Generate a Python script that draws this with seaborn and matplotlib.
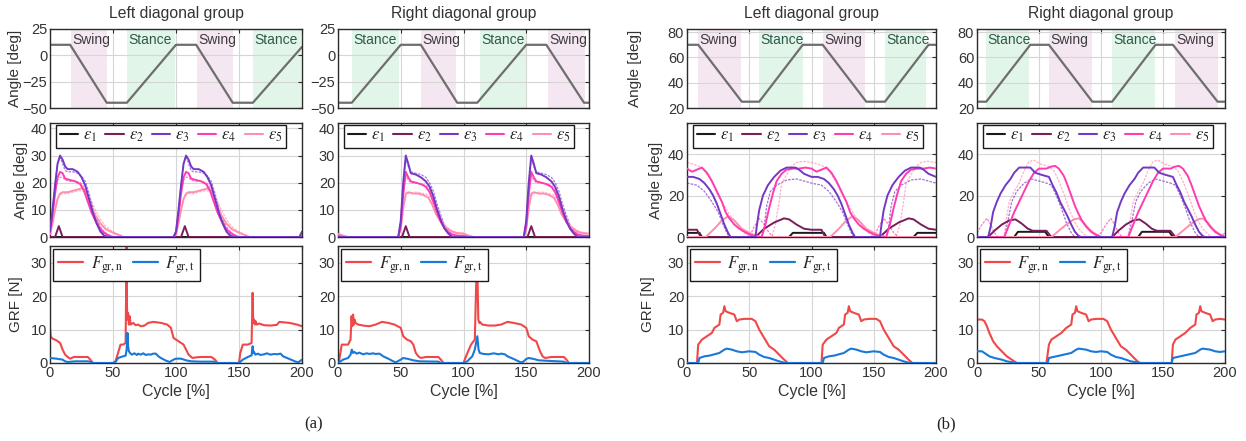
import numpy as np
import matplotlib
matplotlib.use("Agg")
import matplotlib.pyplot as plt
import seaborn as sns

# ---------------- data ----------------
X_TICKS = [0, 50, 100, 150, 200]

# top row: reference joint trajectories
AL_TRAJ_X = [0, 16, 45, 61, 100, 116, 145, 161, 200]
AL_TRAJ_Y = [10, 10, -45, -45, 10, 10, -45, -45, 8]
AR_TRAJ_X = [0, 11, 50, 66, 95, 111, 150, 166, 196, 200]
AR_TRAJ_Y = [-45, -45, 10, 10, -45, -45, 10, 10, -45, -45]
BL_TRAJ_X = [0, 9, 44, 58, 93, 109, 144, 159, 194, 200]
BL_TRAJ_Y = [70, 70, 25, 25, 70, 70, 25, 25, 70, 70]
BR_TRAJ_X = [0, 7.5, 43, 58, 93, 109, 144, 158, 194, 200]
BR_TRAJ_Y = [25, 25, 70, 70, 25, 25, 70, 70, 25, 25]

AL_PHASE = ["Swing", "Stance", "Swing", "Stance"]
AL_PH_START = [17, 61, 117, 161]
AL_PH_END = [45, 99, 145, 199]
AR_PHASE = ["Stance", "Swing", "Stance", "Swing"]
AR_PH_START = [11, 66, 113, 167]
AR_PH_END = [49, 94, 150, 197]
BL_PHASE = ["Swing", "Stance", "Swing", "Stance"]
BL_PH_START = [9, 58, 109, 159]
BL_PH_END = [43, 93, 143, 192]
BR_PHASE = ["Stance", "Swing", "Stance", "Swing"]
BR_PH_START = [7, 58, 109, 160]
BR_PH_END = [42, 93, 143.6, 194]

# middle row: joint angles over one cycle (0-100 %), leg 1 (solid) and leg 2 (dotted)
AL_E1_X = [0, 100]
AL_E1_Y = [0, 0]
AL_E2_X = [0, 4, 7, 10, 100]
AL_E2_Y = [0, 0, 4, 0, 0]
AL_E3_X = [0, 2, 4, 6, 8, 10, 12, 14, 18, 22, 25, 28, 31, 34, 37, 40, 43, 46, 98, 100]
AL_E3_Y = [2, 10, 19, 27, 30, 28.5, 26, 25, 25, 24, 22, 19, 14, 9, 5, 2, 0.5, 0, 0, 2]
AL_D3_Y = [2, 10, 19, 27, 29.5, 27, 24.5, 24, 24, 23.5, 22.5, 20.5, 16, 11, 6.5, 3, 1, 0, 0, 2]
AL_E4_X = [0, 2, 4, 6, 8, 10, 12, 16, 20, 24, 27, 30, 33, 36, 39, 42, 45, 48, 50, 98, 100]
AL_E4_Y = [1.5, 8, 16, 22, 24, 23.5, 21.5, 21, 20.5, 19.5, 17, 13, 9, 6, 3.5, 2, 1, 0.3, 0, 0, 1.5]
AL_D4_Y = [1.5, 8, 16, 21, 22, 22, 21, 20.5, 20.5, 20, 18.5, 15, 11, 7.5, 4.5, 2.5, 1.2, 0.4, 0, 0, 1.5]
AL_E5_X = [0, 2, 4, 6, 8, 10, 14, 18, 22, 26, 28, 30, 33, 36, 40, 44, 48, 52, 56, 58, 98, 100]
AL_E5_Y = [1, 5, 10, 14, 16, 16.5, 16.5, 17, 17.5, 18, 17, 15, 11, 8, 5, 3, 2, 1.2, 0.5, 0, 0, 1]
AL_D5_Y = [1, 5, 10, 14, 15.5, 16, 16, 16.5, 17, 17, 16.5, 15.5, 13, 10, 6.5, 4, 2.5, 1.5, 0.6, 0, 0, 1]

AR_E1_X = [0, 100]
AR_E1_Y = [0, 0]
AR_E2_X = [0, 51, 54, 57, 100]
AR_E2_Y = [0, 0, 4, 0, 0]
AR_E3_X = [0, 48, 50, 52, 54, 56, 58, 62, 66, 70, 73, 76, 79, 82, 85, 88, 91, 100]
AR_E3_Y = [0, 0, 6, 20, 30, 27, 23.5, 23, 22, 20.5, 18.5, 15, 10, 6, 3, 1.2, 0, 0]
AR_D3_Y = [0, 0, 6, 20, 29, 26, 24, 23.5, 23, 22, 20, 17, 12, 8, 4, 1.8, 0.3, 0]
AR_E4_X = [0, 4, 48, 50, 52, 54, 56, 58, 62, 66, 70, 73, 76, 79, 82, 85, 88, 91, 95, 100]
AR_E4_Y = [0.4, 0, 0, 4, 16, 24, 22, 20.5, 20, 19.5, 18.5, 16.5, 13, 9, 5.5, 3.2, 1.8, 0.9, 0.5, 0.4]
AR_D4_Y = [0.5, 0, 0, 4, 15, 22.5, 21, 20, 20, 19.5, 19, 17.5, 14.5, 10.5, 7, 4, 2.2, 1.2, 0.6, 0.5]
AR_E5_X = [0, 4, 8, 48, 50, 52, 54, 56, 60, 64, 68, 72, 75, 78, 82, 86, 90, 94, 100]
AR_E5_Y = [1.2, 0.5, 0, 0, 3, 11, 16, 16.5, 16, 16, 15.5, 14.5, 12, 8.5, 5.5, 3.5, 2.2, 1.5, 1.2]
AR_D5_Y = [1.5, 0.6, 0, 0, 3, 10, 15, 16, 16.5, 16.5, 16, 15.5, 13.5, 10, 6.5, 4, 2.5, 1.8, 1.5]

BL_E1_X = [0, 10, 12, 82, 85, 100]
BL_E1_Y = [2, 2, 0, 0, 2, 2]
BL_E2_X = [0, 8, 11, 55, 62, 70, 78, 82, 88, 94, 100]
BL_E2_Y = [3.5, 3.5, 0, 0, 4, 7, 9, 8.5, 6, 4, 3.5]
BL_E3_X = [0, 5, 10, 14, 18, 21, 24, 27, 30, 33, 35, 55, 56, 58, 61, 65, 70, 75, 80, 87, 90, 94, 100]
BL_E3_Y = [29, 29, 28, 26, 23, 20, 16, 11, 6, 2, 0, 0, 5, 13, 20, 25, 29, 32, 33.5, 33.5, 32.5, 30.5, 29]
BL_E4_X = [0, 4, 8, 12, 16, 20, 24, 28, 31, 34, 38, 42, 46, 50, 55, 60, 63, 66, 69, 72, 76, 80, 85, 90, 95, 100]
BL_E4_Y = [33, 31.5, 32.5, 33.5, 31, 27, 22, 17, 12, 9, 6, 4, 2.5, 1.3, 0.3, 0, 6, 14, 21, 27, 30.5, 32.5, 33, 33, 33.5, 33]
BL_E5_X = [0, 15, 22, 28, 33, 38, 44, 50, 56, 60, 100]
BL_E5_Y = [0, 0, 4, 8, 10, 8, 4, 2, 0.5, 0, 0]
BL_D3_X = [0, 8, 14, 20, 25, 29, 32, 34, 60, 62, 64, 67, 72, 80, 88, 94, 100]
BL_D3_Y = [26, 25, 22, 17, 12, 6, 2, 0, 0, 5, 15, 22, 25, 27.5, 28, 27, 26]
BL_D4_X = [0, 6, 12, 18, 26, 34, 42, 48, 52, 68, 71, 74, 76, 80, 84, 88, 93, 100]
BL_D4_Y = [36, 35, 33.5, 28.5, 19, 11, 4.5, 1, 0, 0, 6, 17, 26, 30, 34, 36, 36.5, 36]
BL_D5_X = [0, 50, 54, 58, 62, 66, 70, 100]
BL_D5_Y = [0, 0, 5, 9, 6, 2, 0, 0]

BR_E1_X = [0, 30, 33, 55, 58, 100]
BR_E1_Y = [0, 0, 2.5, 2.5, 0, 0]
BR_E2_X = [0, 9, 14, 20, 26, 31, 36, 41, 45, 56, 60, 100]
BR_E2_Y = [0, 0, 3, 6, 8, 8.5, 6.5, 4, 3, 3, 0, 0]
BR_E3_X = [0, 9, 11, 13, 16, 19, 23, 27, 30, 34, 43, 47, 52, 58, 61, 64, 67, 70, 73, 76, 79, 82, 84, 100]
BR_E3_Y = [0, 0, 5, 12, 17, 21, 25, 28, 31, 33.5, 33.5, 31, 30, 29, 25, 21.5, 17, 13.5, 10, 6, 2.5, 0.5, 0, 0]
BR_E4_X = [0, 22, 26, 30, 34, 38, 42, 46, 50, 56, 60, 63, 66, 70, 73, 76, 79, 82, 85, 88, 92, 96, 100]
BR_E4_Y = [0, 0, 6, 12, 17, 22, 27, 31, 33, 33, 34, 34.3, 33, 29.5, 25, 20, 15, 11, 7.5, 5, 2.5, 1, 0]
BR_E5_X = [0, 60, 66, 72, 78, 82, 86, 90, 94, 100]
BR_E5_Y = [0, 0, 3, 6, 8.5, 9, 7, 4, 2, 0]
BR_D3_X = [0, 22, 25, 28, 32, 38, 44, 50, 56, 60, 64, 68, 72, 76, 79, 100]
BR_D3_Y = [0, 0, 8, 17, 22, 26, 28, 27, 26, 25, 20, 14, 7, 2, 0, 0]
BR_D4_X = [0, 22, 24, 26, 30, 34, 38, 42, 46, 52, 58, 62, 66, 70, 74, 78, 82, 86, 90, 100]
BR_D4_Y = [0, 0, 10, 17, 22, 26, 32, 36.5, 37, 35, 34, 32, 27, 21, 14, 8, 4, 1.5, 0, 0]
BR_D5_X = [0, 4, 8, 11, 14, 17, 96, 100]
BR_D5_Y = [2, 6, 9, 6, 2, 0, 0, 2]

# bottom row: ground reaction forces over 0-200 %
AL_FN_X = [0, 0.5, 2, 5, 8, 10, 12, 14, 16, 19, 24, 30, 32, 34, 50, 52, 54, 56, 58, 60, 60.8, 61.2, 62, 62.6,
           63.2, 64, 66, 68, 70, 72, 75, 78, 82, 88, 93, 96, 98, 102, 106, 108, 110, 113, 116, 120, 128, 131,
           133, 150, 151, 153, 157, 160, 160.8, 161.3, 162, 162.6, 163.2, 164, 166, 170, 175, 180, 182, 190, 196, 200]
AL_FN = [10.5, 8, 7.3, 6.8, 6, 4, 2.5, 1.8, 1.3, 1.8, 1.8, 1.8, 1, 0, 0, 0.5, 3, 5.5, 5.5, 6, 35, 13, 15, 11.5,
         14, 11.5, 12, 11.3, 11.5, 11, 11.2, 12, 12.3, 12, 11.5, 10.5, 7.5, 6.5, 5.5, 4, 2.5, 1.5, 1.7, 1.8, 1.8, 1,
         0, 0, 3, 5.5, 5.5, 6, 21, 12, 13, 11.5, 12.5, 11.5, 11.8, 11.3, 11.2, 11.4, 12.3, 12, 11.5, 11]
AL_FT_X = [0, 5, 10, 12, 14, 20, 30, 33, 34, 50, 52, 54, 58, 60, 60.8, 61.5, 62, 62.6, 63.5, 65, 67, 69, 70, 72,
           74, 76, 78, 80, 82, 84, 86, 88, 92, 95, 98, 100, 104, 108, 112, 120, 130, 132, 150, 153, 157, 160, 160.8,
           161.5, 162, 163, 165, 167, 170, 172, 175, 178, 180, 183, 185, 190, 195, 197, 200]
AL_FT = [1.5, 1.3, 1, 0.5, 0.3, 0.5, 0.5, 0.3, 0, 0, 0.3, 1.5, 2, 2.2, 4, 9, 5, 3.5, 3, 2.5, 2.9, 2.4, 2.8, 2.5,
         2.9, 2.4, 2.6, 2.5, 2.8, 2.8, 2, 1.5, 0.7, 0.3, 1, 1.3, 1.3, 0.8, 0.5, 0.4, 0.4, 0, 0, 1, 1.8, 2.3, 5,
         3, 3.2, 2.5, 2.8, 2.4, 2.6, 2.9, 2.5, 2.7, 2.6, 2.8, 2, 1.2, 0.4, 0.2, 1]

AR_FN_X = [0, 1, 3, 8, 10, 10.8, 11.3, 12, 12.6, 13.2, 14, 16, 20, 25, 30, 35, 40, 45, 50, 52, 55, 58, 60, 62,
           64, 66, 70, 80, 82, 84, 100, 102, 106, 109, 110, 110.8, 111.8, 112.6, 113, 115, 120, 125, 130, 135,
           140, 146, 150, 152, 155, 158, 161, 163, 165, 170, 180, 182, 184, 200]
AR_FN = [0, 1, 5.5, 5.5, 7, 14, 11, 14.5, 11.5, 13, 12, 11.5, 11.2, 11, 11.5, 12.3, 12, 11.5, 10.5, 8, 7, 6.5,
         5.5, 3, 2, 1.5, 1.8, 1.8, 1, 0, 0, 2, 5.5, 7, 22, 33, 13, 12, 12.3, 11.5, 11.2, 11.2, 11.5, 12.3, 12,
         11.5, 10.5, 8, 7, 6.5, 3.5, 2, 1.5, 1.8, 1.8, 1, 0, 0]
AR_FT_X = [0, 2, 4, 8, 10, 11, 12, 13, 15, 17, 20, 23, 25, 28, 30, 33, 36, 40, 44, 46, 50, 52, 56, 60, 65, 80,
           82, 100, 103, 107, 109, 111, 112, 113, 116, 120, 124, 128, 130, 133, 135, 140, 145, 147, 150, 152,
           156, 160, 180, 182, 200]
AR_FT = [0, 0.5, 1, 1.5, 2.5, 4, 3, 3.3, 2.8, 3.1, 2.6, 2.9, 2.7, 2.9, 2.7, 2.8, 2, 1.3, 0.5, 0.2, 1, 1.5, 1.2,
         0.8, 0.5, 0.4, 0, 0, 0.5, 2, 4, 8, 4, 3, 2.7, 2.6, 2.9, 2.6, 2.8, 2.6, 2, 1.2, 0.3, 0.2, 1.2, 1.5, 1.2,
         0.8, 0.4, 0, 0]

BL_FN_X = [0, 8, 9, 12, 16, 20, 22, 24, 26, 27, 29, 30, 31, 34, 38, 40, 42, 46, 52, 55, 58, 62, 66, 70, 74, 78,
           81, 108, 109, 112, 116, 120, 122, 124, 126, 127, 129, 130, 131, 134, 138, 140, 142, 146, 152, 155,
           158, 162, 166, 170, 174, 178, 181, 200]
BL_FN = [0, 0, 5.5, 7, 8, 9, 10.5, 11, 11.5, 14.5, 15, 17, 15.5, 15, 14.5, 12.5, 13, 13.2, 13.2, 12.5, 10, 7.5,
         5, 4, 2.5, 1, 0, 0, 5.5, 7, 8, 9, 10.5, 11, 11.5, 14.5, 15, 17, 15.5, 15, 14.5, 12.5, 13, 13.2, 13.2,
         12.5, 10, 7.5, 5, 4, 2.5, 1, 0, 0]
BL_FT_X = [0, 9, 10, 14, 18, 22, 26, 30, 32, 36, 40, 44, 50, 55, 58, 62, 66, 70, 74, 78, 80, 109, 110, 114, 118,
           122, 126, 130, 132, 136, 140, 144, 150, 155, 158, 162, 166, 170, 174, 178, 180, 200]
BL_FT = [0, 0, 1.5, 2, 2.2, 2.6, 3, 4, 4.3, 4, 3.5, 3.2, 3.5, 3.3, 2.5, 1.8, 1.5, 1, 0.5, 0.1, 0, 0, 1.5, 2, 2.2,
         2.6, 3, 4, 4.3, 4, 3.5, 3.2, 3.5, 3.3, 2.5, 1.8, 1.5, 1, 0.5, 0.1, 0, 0]

BR_FN_X = [0, 4, 6, 8, 10, 13, 16, 20, 24, 28, 32, 56, 58, 60, 64, 68, 72, 74, 76, 77, 79, 80, 81, 84, 88, 90,
           92, 96, 102, 105, 108, 112, 116, 120, 124, 128, 131, 157, 158, 160, 164, 168, 172, 174, 176, 177, 179,
           180, 181, 184, 188, 190, 192, 196, 200]
BR_FN = [13, 13, 12.5, 11, 9, 6.5, 5, 3.5, 2, 1, 0, 0, 5.5, 7, 8, 9, 10.5, 11, 11.5, 14.5, 15, 17, 15.5, 15,
         14.5, 12.5, 13, 13.2, 13.2, 12.5, 10, 7.5, 5, 4, 2.5, 1, 0, 0, 5.5, 7, 8, 9, 10.5, 11, 11.5, 14.5, 15,
         17, 15.5, 15, 14.5, 12.5, 13, 13.2, 13]
BR_FT_X = [0, 4, 6, 10, 14, 20, 24, 30, 33, 57, 58, 64, 70, 76, 80, 82, 88, 92, 96, 100, 105, 108, 112, 116,
           120, 124, 130, 133, 157, 158, 164, 170, 176, 180, 182, 188, 192, 196, 200]
BR_FT = [3.5, 3.5, 3, 2, 1.5, 1, 0.5, 0.1, 0, 0, 1.5, 2, 2.5, 3, 4, 4.3, 4, 3.5, 3.3, 3.5, 3.3, 2.5, 1.8, 1.5,
         1, 0.5, 0.1, 0, 0, 1.5, 2, 2.5, 3, 4, 4.3, 4, 3.5, 3.3, 3.5]

EPS_LABELS = [r"$\varepsilon_1$", r"$\varepsilon_2$", r"$\varepsilon_3$", r"$\varepsilon_4$", r"$\varepsilon_5$"]
GRF_LABELS = [r"$F_{\mathrm{gr,n}}$", r"$F_{\mathrm{gr,t}}$"]
TITLES = ["Left diagonal group", "Right diagonal group", "Left diagonal group", "Right diagonal group"]

# ---------------- style ----------------
sns.set_theme(style="white")
plt.rcParams["font.family"] = ["Liberation Sans", "DejaVu Sans"]
plt.rcParams["mathtext.fontset"] = "stix"
plt.rcParams["axes.edgecolor"] = "#2b2b2b"
plt.rcParams["axes.linewidth"] = 1.0

EPS_COL = ["#1a1a1a", "#7a1d5c", "#7438c4", "#ff3cb0", "#ff8fb0"]
RED, BLUE = "#f04848", "#1a78d8"
SWING_C, STANCE_C = "#f5e7f2", "#e2f5e9"
TRAJ_C = "#6e6e6e"
GRID_C = "#d6d6d6"
TICK_FS = 10.5
LAB_FS = 11
TXT_C = "#333333"

W, H = 1246, 441
fig = plt.figure(figsize=(W / 100, H / 100), dpi=100)
COLS = [(50, 302), (338, 589), (687, 936), (977, 1225)]
ROWS = [(29, 108), (123, 237), (246, 363)]


def add_ax(c, r):
    l, rr = COLS[c]
    t, b = ROWS[r]
    return fig.add_axes([l / W, 1 - b / H, (rr - l) / W, (b - t) / H])


def style(ax, ylim, yticks, bottom):
    ax.set_xlim(0, 200)
    ax.set_ylim(*ylim)
    ax.set_xticks(X_TICKS)
    ax.set_yticks(yticks)
    ax.grid(True, color=GRID_C, lw=0.8)
    ax.set_axisbelow(True)
    ax.tick_params(direction="in", top=True, right=True, length=3, width=0.8,
                   labelsize=TICK_FS, pad=2, colors="#2b2b2b", labelcolor=TXT_C,
                   labelbottom=bottom)
    ax.set_xlabel("")
    ax.set_ylabel("")


def line(ax, x, y, color, lw, ls="-", alpha=1.0, z=2):
    sns.lineplot(x=np.asarray(x, float), y=np.asarray(y, float), ax=ax, color=color,
                 lw=lw, ls=ls, alpha=alpha, estimator=None, sort=False, legend=False, zorder=z)


def two_cycles(x, y):
    x = np.asarray(x, float)
    y = np.asarray(y, float)
    return np.concatenate([x, x + 100]), np.concatenate([y, y])


traj = [(AL_TRAJ_X, AL_TRAJ_Y, AL_PHASE, AL_PH_START, AL_PH_END, (-50, 25), [-50, -25, 0, 25]),
        (AR_TRAJ_X, AR_TRAJ_Y, AR_PHASE, AR_PH_START, AR_PH_END, (-50, 25), [-50, -25, 0, 25]),
        (BL_TRAJ_X, BL_TRAJ_Y, BL_PHASE, BL_PH_START, BL_PH_END, (20, 82.5), [20, 40, 60, 80]),
        (BR_TRAJ_X, BR_TRAJ_Y, BR_PHASE, BR_PH_START, BR_PH_END, (20, 82.5), [20, 40, 60, 80])]

eps = [
    [(AL_E1_X, AL_E1_Y, None), (AL_E2_X, AL_E2_Y, None), (AL_E3_X, AL_E3_Y, AL_D3_Y),
     (AL_E4_X, AL_E4_Y, AL_D4_Y), (AL_E5_X, AL_E5_Y, AL_D5_Y)],
    [(AR_E1_X, AR_E1_Y, None), (AR_E2_X, AR_E2_Y, None), (AR_E3_X, AR_E3_Y, AR_D3_Y),
     (AR_E4_X, AR_E4_Y, AR_D4_Y), (AR_E5_X, AR_E5_Y, AR_D5_Y)],
]
eps_b = [
    (BL_E1_X, BL_E1_Y, BL_E2_X, BL_E2_Y, BL_E3_X, BL_E3_Y, BL_E4_X, BL_E4_Y, BL_E5_X, BL_E5_Y,
     BL_D3_X, BL_D3_Y, BL_D4_X, BL_D4_Y, BL_D5_X, BL_D5_Y),
    (BR_E1_X, BR_E1_Y, BR_E2_X, BR_E2_Y, BR_E3_X, BR_E3_Y, BR_E4_X, BR_E4_Y, BR_E5_X, BR_E5_Y,
     BR_D3_X, BR_D3_Y, BR_D4_X, BR_D4_Y, BR_D5_X, BR_D5_Y),
]
grf = [(AL_FN_X, AL_FN, AL_FT_X, AL_FT), (AR_FN_X, AR_FN, AR_FT_X, AR_FT),
       (BL_FN_X, BL_FN, BL_FT_X, BL_FT), (BR_FN_X, BR_FN, BR_FT_X, BR_FT)]

YLAB_X = {0: (-0.112, -0.088, -0.107), 2: (-0.18, -0.096, -0.128)}

for c in range(4):
    # ---- top row
    ax = add_ax(c, 0)
    tx, ty, names, st, en, ylim, yt = traj[c]
    for nm, s, e in zip(names, st, en):
        ax.axvspan(s, e, color=SWING_C if nm == "Swing" else STANCE_C, zorder=0.2, lw=0)
        ax.text(s + 1.0, 0.95, nm, transform=ax.get_xaxis_transform(), ha="left", va="top",
                fontsize=10, color="#3c3c3c" if nm == "Swing" else "#2d5a4c", zorder=3)
    line(ax, tx, ty, TRAJ_C, 1.6)
    style(ax, ylim, yt, False)
    ax.set_title(TITLES[c], fontsize=11.3, pad=8, color=TXT_C)
    if c in (0, 2):
        ax.set_ylabel("Angle [deg]", fontsize=LAB_FS, color=TXT_C)
        ax.yaxis.set_label_coords(YLAB_X[c][0], 0.5)

    # ---- middle row
    ax = add_ax(c, 1)
    if c < 2:
        curves = eps[c]
        for k in (2, 3, 4):
            x, y, d = curves[k]
            xx, yy = two_cycles(x, d)
            line(ax, xx, yy, EPS_COL[k], 0.9, ls=(0, (2, 1)), alpha=0.65)
        for k in (0, 1, 4, 3, 2):
            x, y, d = curves[k]
            xx, yy = two_cycles(x, y)
            line(ax, xx, yy, EPS_COL[k], 1.4, z=3)
        ylim, yt = (0, 42), [0, 10, 20, 30, 40]
    else:
        g = eps_b[c - 2]
        dots = [(g[10], g[11], EPS_COL[2]), (g[12], g[13], EPS_COL[4]), (g[14], g[15], EPS_COL[3])]
        for x, y, col in dots:
            xx, yy = two_cycles(x, y)
            line(ax, xx, yy, col, 0.9, ls=(0, (2, 1)), alpha=0.7)
        for k in (0, 1, 4, 3, 2):
            xx, yy = two_cycles(g[2 * k], g[2 * k + 1])
            line(ax, xx, yy, EPS_COL[k], 1.4, z=3)
        ylim, yt = (0, 55), [0, 20, 40]
    style(ax, ylim, yt, False)
    hs = [plt.Line2D([], [], color=EPS_COL[k], lw=1.5) for k in range(5)]
    leg = ax.legend(hs, EPS_LABELS, loc="upper left", bbox_to_anchor=(0.025, 0.985), ncol=5,
                    fontsize=12, frameon=True, fancybox=False, edgecolor="#1a1a1a",
                    framealpha=1, handlelength=1.1, handletextpad=0.3, columnspacing=0.5,
                    borderpad=0.2, borderaxespad=0)
    leg.get_frame().set_linewidth(1.0)
    if c in (0, 2):
        ax.set_ylabel("Angle [deg]", fontsize=LAB_FS, color=TXT_C)
        ax.yaxis.set_label_coords(YLAB_X[c][1], 0.5)

    # ---- bottom row
    ax = add_ax(c, 2)
    fx, fn, gx, ft = grf[c]
    line(ax, fx, fn, RED, 1.5)
    line(ax, gx, ft, BLUE, 1.5, z=3)
    style(ax, (0, 35), [0, 10, 20, 30], True)
    hs = [plt.Line2D([], [], color=RED, lw=1.6), plt.Line2D([], [], color=BLUE, lw=1.6)]
    leg = ax.legend(hs, GRF_LABELS, loc="upper left", bbox_to_anchor=(0.012, 0.975), ncol=2,
                    fontsize=12, frameon=True, fancybox=False, edgecolor="#1a1a1a",
                    framealpha=1, handlelength=1.5, handletextpad=0.45, columnspacing=0.6,
                    borderpad=0.3, borderaxespad=0)
    leg.get_frame().set_linewidth(1.0)
    ax.set_xlabel("Cycle [%]", fontsize=LAB_FS + 0.5, color=TXT_C, labelpad=3)
    if c in (0, 2):
        ax.set_ylabel("GRF [N]", fontsize=LAB_FS, color=TXT_C)
        ax.yaxis.set_label_coords(YLAB_X[c][2], 0.5)

fig.text(314 / W, 1 - 424 / H, "(a)", ha="center", va="center", fontsize=12,
         family="Liberation Serif", color="#222222")
fig.text(946 / W, 1 - 424 / H, "(b)", ha="center", va="center", fontsize=12,
         family="Liberation Serif", color="#222222")

fig.savefig("out.png", dpi=100, facecolor="white")
